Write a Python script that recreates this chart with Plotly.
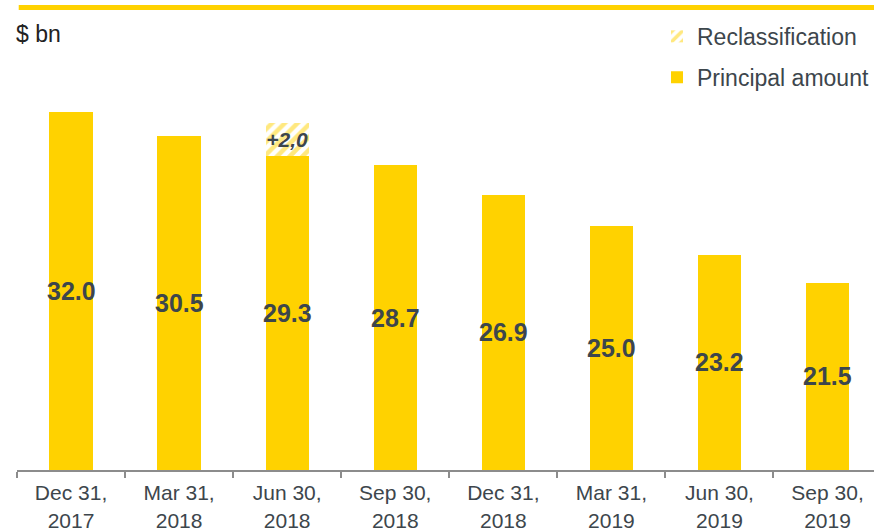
import plotly.graph_objects as go

categories = ["Dec 31,<br>2017", "Mar 31,<br>2018", "Jun 30,<br>2018", "Sep 30,<br>2018",
              "Dec 31,<br>2018", "Mar 31,<br>2019", "Jun 30,<br>2019", "Sep 30,<br>2019"]
principal = [32.0, 30.5, 29.3, 28.7, 26.9, 25.0, 23.2, 21.5]
reclass = [None, None, 2.0, None, None, None, None, None]
reclass_labels = ["", "", "+2,0", "", "", "", "", ""]
axis_floor = 10

YELLOW = "#FFD200"
DARK = "#3d464c"
GREY = "#8c8c8c"
FONT = "Arial, Liberation Sans"

fig = go.Figure()

fig.add_trace(
    go.Bar(
        x=categories,
        y=principal,
        name="Principal amount",
        marker={"color": YELLOW, "line": {"width": 0}},
        width=0.4,
        legendgroup="b",
        legendrank=2,
    )
)
fig.add_trace(
    go.Bar(
        x=categories,
        y=reclass,
        name="Reclassification",
        marker={
            "color": "white",
            "line": {"width": 0},
            "pattern": {"shape": "/", "fgcolor": YELLOW, "bgcolor": "white", "size": 9, "solidity": 0.5},
        },
        width=0.4,
        text=reclass_labels,
        textposition="inside",
        textangle=0,
        insidetextanchor="middle",
        constraintext="none",
        textfont={"family": FONT, "size": 21, "color": DARK, "weight": "bold", "style": "italic"},
        legendgroup="a",
        legendrank=1,
    )
)

# value labels centred in the visible part of each bar
for cat, v in zip(categories, principal):
    fig.add_annotation(x=cat, y=(axis_floor + v) / 2, text=f"<b>{v:.1f}</b>", showarrow=False,
                       font={"family": FONT, "size": 25, "color": DARK})

# yellow rule along the top
fig.add_shape(type="line", xref="paper", yref="paper", x0=0.002, x1=1.0, y0=1.128, y1=1.128,
              line={"color": YELLOW, "width": 5})

fig.add_annotation(text="$ bn", xref="paper", yref="paper", x=-0.003, y=1.063,
                   xanchor="left", yanchor="middle", showarrow=False,
                   font={"size": 23, "color": "#222222"})

fig.update_layout(
    width=874,
    height=530,
    barmode="stack",
    margin={"l": 17, "r": 0, "t": 60, "b": 60},
    font={"family": FONT, "size": 21, "color": DARK},
    paper_bgcolor="white",
    plot_bgcolor="white",
    showlegend=True,
    legend={
        "x": 1.0, "xanchor": "right", "y": 1.11, "yanchor": "top",
        "traceorder": "grouped", "tracegroupgap": 8,
        "font": {"size": 23, "color": DARK},
        "bgcolor": "rgba(0,0,0,0)",
    },
    xaxis={
        "range": [-0.5, 7.43],
        "automargin": False,
        "showline": True,
        "linecolor": GREY,
        "linewidth": 2,
        "ticks": "outside",
        "tickson": "boundaries",
        "ticklen": 6,
        "tickcolor": GREY,
        "tickwidth": 2,
        "ticklabelstandoff": 3,
        "showgrid": False,
        "tickfont": {"size": 21, "color": DARK},
    },
    yaxis={
        "range": [axis_floor, 35.17],
        "visible": False,
        "showgrid": False,
    },
)

fig.write_html("out.html", config={"displayModeBar": False},
               post_script="document.body.style.margin='0';")
